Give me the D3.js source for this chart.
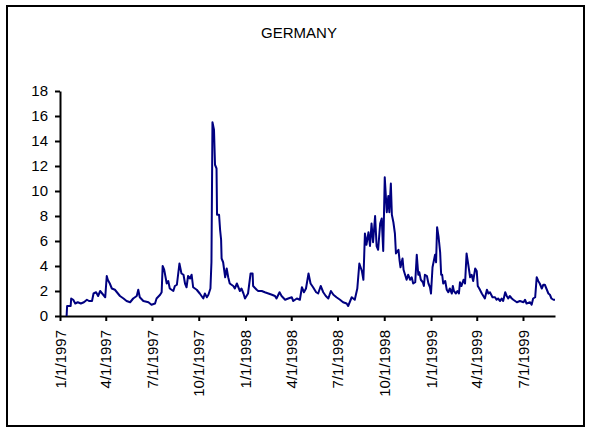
<!DOCTYPE html>
<html><head><meta charset="utf-8">
<script src="https://cdn.jsdelivr.net/npm/d3@7"></script>
<style>body{margin:0;background:#fff} text{font-family:"Liberation Sans",Arial,sans-serif}</style>
</head><body><svg id="c" width="589" height="431"></svg>
<script>
const title = "GERMANY";
const yTicks = [0,2,4,6,8,10,12,14,16,18];
const xTickLabels = ["1/1/1997","4/1/1997","7/1/1997","10/1/1997","1/1/1998","4/1/1998","7/1/1998","10/1/1998","1/1/1999","4/1/1999","7/1/1999"];
const dates = [
"1997-01-14","1997-01-15","1997-01-22","1997-01-23","1997-01-27","1997-01-31","1997-02-05","1997-02-11","1997-02-17","1997-02-23",
"1997-02-27","1997-03-05","1997-03-08","1997-03-13","1997-03-17","1997-03-21","1997-03-25","1997-03-31","1997-04-03","1997-04-05",
"1997-04-09","1997-04-13","1997-04-19","1997-04-25","1997-04-29","1997-05-06","1997-05-12","1997-05-19","1997-05-25","1997-06-01",
"1997-06-04","1997-06-07","1997-06-14","1997-06-24","1997-06-30","1997-07-07","1997-07-10","1997-07-17","1997-07-20","1997-07-22",
"1997-07-25","1997-07-30","1997-08-02","1997-08-05","1997-08-12","1997-08-15","1997-08-19","1997-08-24","1997-08-28","1997-09-01",
"1997-09-04","1997-09-07","1997-09-10","1997-09-14","1997-09-17","1997-09-20",
"1997-09-27","1997-10-03","1997-10-10","1997-10-13","1997-10-17","1997-10-20","1997-10-24","1997-10-26","1997-10-28","1997-10-31",
"1997-11-02","1997-11-05","1997-11-06","1997-11-10","1997-11-12","1997-11-14","1997-11-15","1997-11-18","1997-11-22","1997-11-25",
"1997-11-28","1997-12-01","1997-12-08","1997-12-11","1997-12-15","1997-12-21","1997-12-24","1997-12-28","1997-12-31",
"1998-01-06","1998-01-11","1998-01-15","1998-01-16","1998-01-23","1998-01-26","1998-02-02","1998-02-08","1998-02-15","1998-02-22",
"1998-02-28","1998-03-03","1998-03-09","1998-03-13","1998-03-20","1998-03-26","1998-04-02","1998-04-05","1998-04-12","1998-04-18",
"1998-04-22","1998-04-26","1998-04-30","1998-05-05","1998-05-09","1998-05-14","1998-05-20","1998-05-24","1998-05-29","1998-06-03",
"1998-06-08","1998-06-13","1998-06-18","1998-06-23","1998-06-29","1998-07-06","1998-07-12","1998-07-19","1998-07-22","1998-07-29",
"1998-08-04","1998-08-09","1998-08-13","1998-08-18","1998-08-21","1998-08-24","1998-08-27","1998-08-31","1998-09-03","1998-09-06",
"1998-09-09","1998-09-13","1998-09-16","1998-09-19","1998-09-23","1998-09-26","1998-09-29","1998-10-02","1998-10-06","1998-10-09",
"1998-10-11","1998-10-14","1998-10-16","1998-10-19","1998-10-22","1998-10-24","1998-10-29","1998-10-31","1998-11-02","1998-11-06",
"1998-11-08","1998-11-11","1998-11-14","1998-11-17","1998-11-21","1998-11-24","1998-11-27","1998-12-01","1998-12-04","1998-12-07",
"1998-12-09","1998-12-12","1998-12-16","1998-12-18","1998-12-20","1998-12-24","1998-12-27","1998-12-30",
"1999-01-01","1999-01-04","1999-01-09","1999-01-11","1999-01-13","1999-01-16","1999-01-19","1999-01-21","1999-01-23","1999-01-25",
"1999-01-29","1999-02-01","1999-02-04","1999-02-07","1999-02-11","1999-02-13","1999-02-15","1999-02-19","1999-02-22","1999-02-25",
"1999-02-27","1999-03-02","1999-03-06","1999-03-09","1999-03-12","1999-03-15","1999-03-19","1999-03-22","1999-03-25","1999-03-29",
"1999-04-01","1999-04-03","1999-04-06","1999-04-11","1999-04-14","1999-04-17","1999-04-21","1999-04-24","1999-04-27","1999-05-02",
"1999-05-07","1999-05-10","1999-05-13","1999-05-17","1999-05-20","1999-05-23","1999-05-27","1999-05-30","1999-06-02","1999-06-05",
"1999-06-09","1999-06-12","1999-06-19","1999-06-25","1999-07-02","1999-07-05","1999-07-08","1999-07-15","1999-07-18","1999-07-21",
"1999-07-25","1999-07-28","1999-07-31","1999-08-03","1999-08-07","1999-08-10","1999-08-13","1999-08-17","1999-08-20","1999-08-23",
"1999-08-26","1999-08-30","1999-09-02"
];
const values = [
0,0.8,0.8,1.4,1.3,1.0,1.1,1.0,1.1,1.3,
1.2,1.2,1.8,1.9,1.6,2.0,1.8,1.5,3.2,2.9,
2.6,2.2,2.1,1.8,1.6,1.4,1.2,1.1,1.4,1.6,
2.1,1.5,1.2,1.1,0.9,1.0,1.4,1.7,1.9,4.0,
3.7,2.6,2.8,2.2,2.0,2.4,2.5,4.2,3.4,3.3,
2.6,2.3,3.2,3.0,3.3,2.3,
2.1,1.8,1.4,1.8,1.5,1.7,2.2,4.3,15.5,14.9,
12.1,11.8,8.1,8.1,6.9,6.1,4.6,4.3,3.1,3.8,
3.1,2.6,2.4,2.2,2.6,2.0,2.2,1.8,1.4,
1.8,3.4,3.4,2.4,2.1,2.0,2.0,1.9,1.8,1.7,
1.6,1.4,1.9,1.6,1.3,1.4,1.5,1.2,1.4,1.3,
2.3,1.9,2.2,3.4,2.6,2.3,1.9,1.8,2.4,1.9,
1.6,1.4,2.0,1.7,1.5,1.3,1.1,1.0,0.8,1.5,
1.3,2.2,4.2,3.6,2.9,6.6,5.7,6.7,5.6,7.4,
5.9,8.0,5.6,5.3,7.4,7.8,5.2,11.1,8.3,9.6,
8.3,10.6,8.1,7.5,6.6,5.0,5.3,4.5,3.9,4.6,
3.7,3.3,2.9,3.3,2.9,3.1,2.6,2.7,4.9,3.3,
3.5,2.9,2.7,2.4,3.3,3.2,2.6,2.3,
1.8,3.9,4.9,4.3,7.1,6.3,5.1,3.3,3.3,2.6,
2.8,2.1,1.9,2.2,1.8,2.4,2.0,1.8,2.0,1.8,
2.7,2.4,2.9,2.6,5.0,4.2,3.1,3.3,2.8,3.8,
3.6,2.4,2.2,1.8,1.6,1.4,2.1,1.8,1.9,1.5,
1.5,1.3,1.4,1.2,1.4,1.2,1.9,1.6,1.4,1.6,
1.4,1.3,1.1,1.2,1.1,1.3,1.0,1.1,0.9,1.4,
1.5,3.1,2.8,2.6,2.2,2.5,2.5,2.1,1.8,1.7,
1.4,1.3,1.3
];
const domainStart = "1997-01-01", domainEnd = "1999-09-02";

const svg = d3.select("#c");
const parseISO = d3.timeParse("%Y-%m-%d");
const parseLbl = d3.timeParse("%m/%d/%Y");
const data = dates.map((d,i)=>({date:parseISO(d), v:values[i]}));

svg.append("rect").attr("x",7).attr("y",6).attr("width",577).attr("height",420)
  .attr("fill","none").attr("stroke","#000").attr("stroke-width",2);

svg.append("text").attr("x",299).attr("y",38).attr("text-anchor","middle")
  .attr("font-size",15).attr("fill","#000").text(title);

const x = d3.scaleTime().domain([parseISO(domainStart), parseISO(domainEnd)]).range([60,555]);
const y = d3.scaleLinear().domain([0,18]).range([316,91]);

const yAxis = svg.append("g").attr("transform","translate(60,0)")
  .call(d3.axisLeft(y).tickValues(yTicks).tickSize(5).tickSizeOuter(0).tickPadding(7).tickFormat(d3.format("d")));
const xAxis = svg.append("g").attr("transform","translate(0,316)")
  .call(d3.axisBottom(x).tickValues(xTickLabels.map(parseLbl)).tickSize(5).tickSizeOuter(0)
    .tickFormat((d,i)=>xTickLabels[i]));
xAxis.selectAll("text").attr("transform","rotate(-90)").attr("text-anchor","end")
  .attr("x",-14).attr("y",0).attr("dy","0.35em");

[xAxis,yAxis].forEach(g=>{
  g.selectAll("path,line").attr("stroke","#000").attr("stroke-width",2);
  g.selectAll("text").attr("font-size",15).attr("fill","#000").attr("font-family","'Liberation Sans',Arial,sans-serif");
});

svg.append("path").datum(data)
  .attr("fill","none").attr("stroke","#000080").attr("stroke-width",2).attr("stroke-linejoin","round")
  .attr("d", d3.line().x(d=>x(d.date)).y(d=>y(d.v)));
</script></body></html>
